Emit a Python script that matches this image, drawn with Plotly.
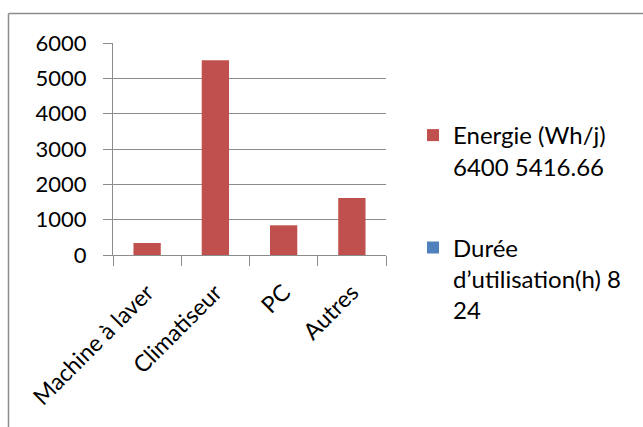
import plotly.graph_objects as go

# Appareils et consommation journalière
categories = ["Machine à laver", "Climatiseur", "PC", "Autres"]
energie_wh_j = [340, 5510, 840, 1615]
duree_h = [None, None, None, None]

serie_energie = "Energie (Wh/j)<br>6400 5416.66"
serie_duree = "Durée<br>d’utilisation(h) 8<br>24"

y_ticks = [0, 1000, 2000, 3000, 4000, 5000, 6000]

W, H = 643, 427
ML, MR, MT, MB = 113, 257, 43, 172
PW, PH = W - ML - MR, H - MT - MB

FONT = "Lato"
GRID = "#8c8c8c"

fig = go.Figure()
fig.add_trace(go.Bar(
    x=categories, y=energie_wh_j, name=serie_energie,
    marker=dict(color="#c0504d", line=dict(width=0)),
    width=0.4, legendgroup="a",
))
fig.add_trace(go.Bar(
    x=categories, y=duree_h, name=serie_duree,
    marker=dict(color="#4f81bd", line=dict(width=0)),
    width=0.4, legendgroup="b",
))


def px_x(px):
    return (px - ML) / PW


def px_y(py):
    return 1 - (py - MT) / PH


fig.update_layout(
    width=W, height=H,
    margin=dict(l=ML, r=MR, t=MT, b=MB),
    paper_bgcolor="white", plot_bgcolor="white",
    barmode="overlay",
    font=dict(family=FONT, size=22, color="black"),
    showlegend=True,
    legend=dict(
        x=px_x(413), y=px_y(113), xanchor="left", yanchor="top",
        tracegroupgap=47, valign="top", maxheight=420,
        font=dict(family=FONT, size=24, color="black"),
        bgcolor="rgba(0,0,0,0)",
    ),
    xaxis=dict(
        type="category", tickangle=-45, tickson="boundaries",
        ticks="outside", ticklen=10, tickcolor=GRID,
        showline=True, linecolor=GRID, linewidth=1,
        showgrid=False, tickfont=dict(family=FONT, size=23),
        ticklabelstandoff=14,
    ),
    yaxis=dict(
        range=[0, 6000], tickvals=y_ticks,
        ticks="outside", ticklen=9, tickcolor=GRID,
        showline=True, linecolor=GRID, linewidth=1,
        showgrid=True, gridcolor=GRID, gridwidth=1,
        zeroline=False, tickfont=dict(family=FONT, size=22),
        ticklabelstandoff=12,
    ),
    shapes=[
        dict(type="line", xref="paper", yref="paper",
             x0=px_x(8.5), x1=px_x(660), y0=px_y(13.5), y1=px_y(13.5),
             line=dict(color="#8c8c8c", width=1.5)),
        dict(type="line", xref="paper", yref="paper",
             x0=px_x(8.5), x1=px_x(8.5), y0=px_y(13.5), y1=px_y(440),
             line=dict(color="#8c8c8c", width=1.5)),
    ],
)

fig.write_html("out.html")
